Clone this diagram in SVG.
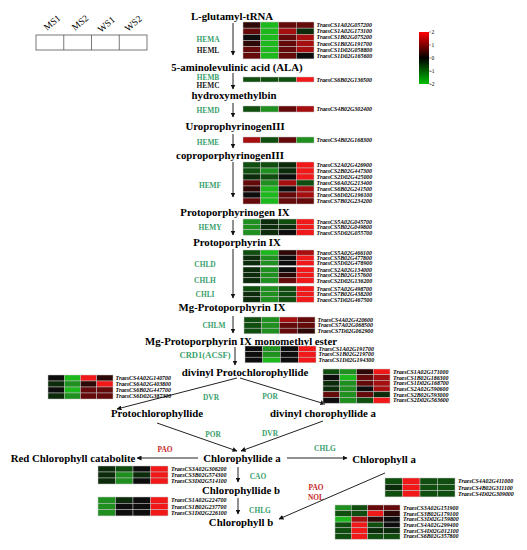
<svg xmlns="http://www.w3.org/2000/svg" width="527" height="550" viewBox="0 0 527 550">
<style>
.t{font-family:"Liberation Serif","Times New Roman",serif;font-weight:bold;font-size:10.8px;fill:#000;text-anchor:middle}
.en{font-family:"Liberation Serif","Times New Roman",serif;font-weight:bold;font-size:7.4px;fill:#3a9f6c;text-anchor:middle}
.enk{fill:#222}
.enr{fill:#c62828}
.gl{font-family:"Liberation Serif","Times New Roman",serif;font-weight:bold;font-style:italic;font-size:5.9px;fill:#000}
.lg{font-family:"Liberation Serif","Times New Roman",serif;font-size:9.5px;fill:#000}
.sc{font-family:"Liberation Serif","Times New Roman",serif;font-size:5.5px;fill:#000}
.hm rect{stroke:#c4c4c4;stroke-width:0.5}
.R{fill:#f01818}.r2{fill:#a50f0f}.r1{fill:#640a0a}.k1{fill:#2e0707}.k{fill:#0d0d0d}
.e1{fill:#0b2b0b}.e2{fill:#0f4e0f}.e3{fill:#1f8f1f}.e4{fill:#1cb81c}
.ln{stroke:#222;stroke-width:1;fill:none}
</style>
<defs>
<marker id="ah" viewBox="0 0 10 10" refX="9" refY="5" markerWidth="5" markerHeight="5" markerUnits="userSpaceOnUse" orient="auto">
<path d="M0,0 L10,5 L0,10 z" fill="#111"/>
</marker>
<linearGradient id="scale" x1="0" y1="0" x2="0" y2="1">
<stop offset="0" stop-color="#ff0000"/>
<stop offset="0.5" stop-color="#000000"/>
<stop offset="1" stop-color="#00c000"/>
</linearGradient>
</defs>
<rect width="527" height="550" fill="#fff"/>

<g id="legend">
<rect x="36" y="35" width="111" height="15" fill="#fff" stroke="#555" stroke-width="0.8"/>
<line x1="63.75" y1="35" x2="63.75" y2="50" stroke="#555" stroke-width="0.8"/>
<line x1="91.5" y1="35" x2="91.5" y2="50" stroke="#555" stroke-width="0.8"/>
<line x1="119.25" y1="35" x2="119.25" y2="50" stroke="#555" stroke-width="0.8"/>
<text class="lg" transform="translate(47,31) rotate(-40)">MS1</text>
<text class="lg" transform="translate(75,31) rotate(-40)">MS2</text>
<text class="lg" transform="translate(101,33) rotate(-40)">WS1</text>
<text class="lg" transform="translate(128,32) rotate(-40)">WS2</text>
</g>

<g id="colorscale">
<rect x="419" y="32" width="10" height="52" fill="url(#scale)"/>
<g stroke="#333" stroke-width="0.5">
<line x1="429" y1="32" x2="431" y2="32"/><line x1="429" y1="45" x2="431" y2="45"/><line x1="429" y1="58" x2="431" y2="58"/><line x1="429" y1="71" x2="431" y2="71"/><line x1="429" y1="84" x2="431" y2="84"/>
</g>
<text class="sc" x="431.5" y="34">2</text>
<text class="sc" x="431.5" y="47">1</text>
<text class="sc" x="431.5" y="60">0</text>
<text class="sc" x="430" y="73">-1</text>
<text class="sc" x="430" y="86">-2</text>
</g>

<g id="compounds">
<text id="n-glu" class="t" x="232" y="20">L-glutamyl-tRNA</text>
<text id="n-ala" class="t" x="237" y="71">5-aminolevulinic acid (ALA)</text>
<text id="n-hmb" class="t" x="234" y="99">hydroxymethylbin</text>
<text id="n-uro" class="t" x="235" y="130">UroprophyrinogenIII</text>
<text id="n-copro" class="t" x="230" y="159">coproporphyrinogenIII</text>
<text id="n-protogen" class="t" x="235" y="216">Protoporphyrinogen IX</text>
<text id="n-proto" class="t" x="237" y="246">Protoporphyrin IX</text>
<text id="n-mgproto" class="t" x="232" y="311">Mg-Protoporphyrin IX</text>
<text id="n-mgme" class="t" x="241" y="345">Mg-Protoporphyrin IX monomethyl ester</text>
<text id="n-dvpchl" class="t" x="245" y="376">divinyl Protochlorophyllide</text>
<text id="n-pchl" class="t" x="157" y="417">Protochlorophyllide</text>
<text id="n-dvchl" class="t" x="323" y="417">divinyl chorophyllide a</text>
<text id="n-chlidea" class="t" x="242" y="462">Chlorophyllide a</text>
<text id="n-rcc" class="t" x="73" y="462">Red Chlorophyll catabolite</text>
<text id="n-chla" class="t" x="384" y="463">Chlorophyll a</text>
<text id="n-chlideb" class="t" x="241" y="494">Chlorophyllide b</text>
<text id="n-chlb" class="t" x="241" y="526">Chlorophyll b</text>
</g>

<g id="enzymes">
<text class="en" x="208" y="42">HEMA</text>
<text class="en enk" x="208" y="53">HEML</text>
<text class="en" x="208" y="80">HEMB</text>
<text class="en enk" x="208" y="88">HEMC</text>
<text class="en" x="208" y="113">HEMD</text>
<text class="en" x="208" y="145">HEME</text>
<text class="en" x="210" y="188">HEMF</text>
<text class="en" x="210" y="230">HEMY</text>
<text class="en" x="205" y="267">CHLD</text>
<text class="en" x="205" y="283">CHLH</text>
<text class="en" x="205" y="297">CHLI</text>
<text class="en" x="214" y="328">CHLM</text>
<text class="en" x="205" y="358" style="font-size:8.6px">CRD1(ACSF)</text>
<text class="en" x="211" y="400">DVR</text>
<text class="en" x="270" y="399">POR</text>
<text class="en" x="213" y="437">POR</text>
<text class="en" x="270" y="436">DVR</text>
<text class="en enr" x="165" y="452">PAO</text>
<text class="en" x="325" y="451">CHLG</text>
<text class="en" x="258" y="479">CAO</text>
<text class="en" x="260" y="513">CHLG</text>
<text class="en enr" x="316" y="490">PAO</text>
<text class="en enr" x="316" y="500">NOL</text>
</g>

<g id="connectors" class="ln" marker-end="url(#ah)">
<line x1="233" y1="23" x2="233" y2="55"/>
<line x1="233" y1="73" x2="233" y2="89"/>
<line x1="233" y1="103" x2="233" y2="117"/>
<line x1="233" y1="134" x2="233" y2="148"/>
<line x1="233" y1="162" x2="233" y2="197"/>
<line x1="233" y1="220" x2="233" y2="235"/>
<line x1="233" y1="249" x2="233" y2="298"/>
<line x1="233" y1="316" x2="233" y2="333"/>
<line x1="235" y1="347" x2="235" y2="365"/>
<line x1="237" y1="378" x2="117" y2="409"/>
<line x1="240" y1="378" x2="325" y2="404"/>
<line x1="157" y1="423" x2="237" y2="451"/>
<line x1="323" y1="421" x2="241" y2="451"/>
<line x1="198" y1="458" x2="137" y2="458"/>
<line x1="287" y1="458" x2="347" y2="458"/>
<line x1="238" y1="467" x2="238" y2="482"/>
<line x1="238" y1="498" x2="238" y2="514"/>
<line x1="385" y1="473" x2="279" y2="519"/>
</g>

<g id="hm-hema" class="hm" transform="translate(243,22)">
<rect x="0" y="0" width="17.75" height="6.15" class="k1"/><rect x="17.75" y="0" width="17.75" height="6.15" class="e4"/><rect x="35.5" y="0" width="17.75" height="6.15" class="r1"/><rect x="53.25" y="0" width="17.75" height="6.15" class="r1"/>
<rect x="0" y="6.15" width="17.75" height="6.15" class="r1"/><rect x="17.75" y="6.15" width="17.75" height="6.15" class="e4"/><rect x="35.5" y="6.15" width="17.75" height="6.15" class="r2"/><rect x="53.25" y="6.15" width="17.75" height="6.15" class="e1"/>
<rect x="0" y="12.3" width="17.75" height="6.15" class="k"/><rect x="17.75" y="12.3" width="17.75" height="6.15" class="e4"/><rect x="35.5" y="12.3" width="17.75" height="6.15" class="r1"/><rect x="53.25" y="12.3" width="17.75" height="6.15" class="r2"/>
<rect x="0" y="18.45" width="17.75" height="6.15" class="k1"/><rect x="17.75" y="18.45" width="17.75" height="6.15" class="e4"/><rect x="35.5" y="18.45" width="17.75" height="6.15" class="r1"/><rect x="53.25" y="18.45" width="17.75" height="6.15" class="r2"/>
<rect x="0" y="24.6" width="17.75" height="6.15" class="r1"/><rect x="17.75" y="24.6" width="17.75" height="6.15" class="e4"/><rect x="35.5" y="24.6" width="17.75" height="6.15" class="r1"/><rect x="53.25" y="24.6" width="17.75" height="6.15" class="r2"/>
<rect x="0" y="30.75" width="17.75" height="6.15" class="r1"/><rect x="17.75" y="30.75" width="17.75" height="6.15" class="e4"/><rect x="35.5" y="30.75" width="17.75" height="6.15" class="r1"/><rect x="53.25" y="30.75" width="17.75" height="6.15" class="k"/>
<text class="gl" x="73.5" y="5.1">TraesCS1A02G057200</text>
<text class="gl" x="73.5" y="11.2">TraesCS1A02G173100</text>
<text class="gl" x="73.5" y="17.4">TraesCS1B02G075200</text>
<text class="gl" x="73.5" y="23.5">TraesCS1B02G191700</text>
<text class="gl" x="73.5" y="29.7">TraesCS1D02G058800</text>
<text class="gl" x="73.5" y="35.8">TraesCS1D02G165600</text>
</g>

<g id="hm-hemb" class="hm" transform="translate(243,77)">
<rect x="0" y="0" width="17.75" height="5" class="e2"/><rect x="17.75" y="0" width="17.75" height="5" class="e2"/><rect x="35.5" y="0" width="17.75" height="5" class="e2"/><rect x="53.25" y="0" width="17.75" height="5" class="R"/>
<text class="gl" x="73.5" y="4.5">TraesCS6B02G136500</text>
</g>

<g id="hm-hemd" class="hm" transform="translate(243,106)">
<rect x="0" y="0" width="17.75" height="6" class="e2"/><rect x="17.75" y="0" width="17.75" height="6" class="e3"/><rect x="35.5" y="0" width="17.75" height="6" class="r1"/><rect x="53.25" y="0" width="17.75" height="6" class="r2"/>
<text class="gl" x="73.5" y="5">TraesCS4B02G302400</text>
</g>

<g id="hm-heme" class="hm" transform="translate(243,137)">
<rect x="0" y="0" width="17.75" height="6" class="r2"/><rect x="17.75" y="0" width="17.75" height="6" class="e2"/><rect x="35.5" y="0" width="17.75" height="6" class="r1"/><rect x="53.25" y="0" width="17.75" height="6" class="e3"/>
<text class="gl" x="73.5" y="5">TraesCS4B02G168300</text>
</g>

<g id="hm-hemf" class="hm" transform="translate(243,162)">
<rect x="0" y="0" width="17.75" height="6" class="e2"/><rect x="17.75" y="0" width="17.75" height="6" class="e2"/><rect x="35.5" y="0" width="17.75" height="6" class="e1"/><rect x="53.25" y="0" width="17.75" height="6" class="R"/>
<rect x="0" y="6" width="17.75" height="6" class="e2"/><rect x="17.75" y="6" width="17.75" height="6" class="e3"/><rect x="35.5" y="6" width="17.75" height="6" class="e1"/><rect x="53.25" y="6" width="17.75" height="6" class="R"/>
<rect x="0" y="12" width="17.75" height="6" class="e1"/><rect x="17.75" y="12" width="17.75" height="6" class="e2"/><rect x="35.5" y="12" width="17.75" height="6" class="k"/><rect x="53.25" y="12" width="17.75" height="6" class="R"/>
<rect x="0" y="18" width="17.75" height="6" class="r1"/><rect x="17.75" y="18" width="17.75" height="6" class="e3"/><rect x="35.5" y="18" width="17.75" height="6" class="r2"/><rect x="53.25" y="18" width="17.75" height="6" class="e2"/>
<rect x="0" y="24" width="17.75" height="6" class="k1"/><rect x="17.75" y="24" width="17.75" height="6" class="e4"/><rect x="35.5" y="24" width="17.75" height="6" class="k"/><rect x="53.25" y="24" width="17.75" height="6" class="r2"/>
<rect x="0" y="30" width="17.75" height="6" class="k"/><rect x="17.75" y="30" width="17.75" height="6" class="e4"/><rect x="35.5" y="30" width="17.75" height="6" class="r1"/><rect x="53.25" y="30" width="17.75" height="6" class="r2"/>
<rect x="0" y="36" width="17.75" height="6" class="r1"/><rect x="17.75" y="36" width="17.75" height="6" class="e4"/><rect x="35.5" y="36" width="17.75" height="6" class="r1"/><rect x="53.25" y="36" width="17.75" height="6" class="r1"/>
<text class="gl" x="73.5" y="5">TraesCS2A02G426900</text>
<text class="gl" x="73.5" y="11">TraesCS2B02G447300</text>
<text class="gl" x="73.5" y="17">TraesCS2D02G425000</text>
<text class="gl" x="73.5" y="23">TraesCS6A02G213400</text>
<text class="gl" x="73.5" y="29">TraesCS6B02G241500</text>
<text class="gl" x="73.5" y="35">TraesCS6D02G196100</text>
<text class="gl" x="73.5" y="41">TraesCS7B02G234200</text>
</g>

<g id="hm-hemy" class="hm" transform="translate(243,219)">
<rect x="0" y="0" width="17.75" height="5.4" class="e3"/><rect x="17.75" y="0" width="17.75" height="5.4" class="e1"/><rect x="35.5" y="0" width="17.75" height="5.4" class="e2"/><rect x="53.25" y="0" width="17.75" height="5.4" class="R"/>
<rect x="0" y="5.4" width="17.75" height="5.4" class="e3"/><rect x="17.75" y="5.4" width="17.75" height="5.4" class="e1"/><rect x="35.5" y="5.4" width="17.75" height="5.4" class="e1"/><rect x="53.25" y="5.4" width="17.75" height="5.4" class="R"/>
<rect x="0" y="10.8" width="17.75" height="5.4" class="e3"/><rect x="17.75" y="10.8" width="17.75" height="5.4" class="e1"/><rect x="35.5" y="10.8" width="17.75" height="5.4" class="k"/><rect x="53.25" y="10.8" width="17.75" height="5.4" class="R"/>
<text class="gl" x="73.5" y="4.7">TraesCS5A02G045700</text>
<text class="gl" x="73.5" y="10.1">TraesCS5B02G049800</text>
<text class="gl" x="73.5" y="15.5">TraesCS5D02G055700</text>
</g>

<g id="hm-chld" class="hm" transform="translate(243,250)">
<rect x="0" y="0" width="17.75" height="5.2" class="e2"/><rect x="17.75" y="0" width="17.75" height="5.2" class="e4"/><rect x="35.5" y="0" width="17.75" height="5.2" class="k1"/><rect x="53.25" y="0" width="17.75" height="5.2" class="r2"/>
<rect x="0" y="5.2" width="17.75" height="5.2" class="e1"/><rect x="17.75" y="5.2" width="17.75" height="5.2" class="e3"/><rect x="35.5" y="5.2" width="17.75" height="5.2" class="k"/><rect x="53.25" y="5.2" width="17.75" height="5.2" class="R"/>
<rect x="0" y="10.4" width="17.75" height="5.2" class="e1"/><rect x="17.75" y="10.4" width="17.75" height="5.2" class="e3"/><rect x="35.5" y="10.4" width="17.75" height="5.2" class="k"/><rect x="53.25" y="10.4" width="17.75" height="5.2" class="R"/>
<text class="gl" x="73.5" y="4.6">TraesCS5A02G466100</text>
<text class="gl" x="73.5" y="9.8">TraesCS5B02G477800</text>
<text class="gl" x="73.5" y="15">TraesCS5D02G478900</text>
</g>

<g id="hm-chlh" class="hm" transform="translate(243,267)">
<rect x="0" y="0" width="17.75" height="5.4" class="e1"/><rect x="17.75" y="0" width="17.75" height="5.4" class="e3"/><rect x="35.5" y="0" width="17.75" height="5.4" class="k"/><rect x="53.25" y="0" width="17.75" height="5.4" class="R"/>
<rect x="0" y="5.4" width="17.75" height="5.4" class="e1"/><rect x="17.75" y="5.4" width="17.75" height="5.4" class="e3"/><rect x="35.5" y="5.4" width="17.75" height="5.4" class="k1"/><rect x="53.25" y="5.4" width="17.75" height="5.4" class="R"/>
<rect x="0" y="10.8" width="17.75" height="5.4" class="e1"/><rect x="17.75" y="10.8" width="17.75" height="5.4" class="e3"/><rect x="35.5" y="10.8" width="17.75" height="5.4" class="r1"/><rect x="53.25" y="10.8" width="17.75" height="5.4" class="R"/>
<text class="gl" x="73.5" y="4.7">TraesCS2A02G134000</text>
<text class="gl" x="73.5" y="10.1">TraesCS2B02G157600</text>
<text class="gl" x="73.5" y="15.5">TraesCS2D02G136200</text>
</g>

<g id="hm-chli" class="hm" transform="translate(243,286)">
<rect x="0" y="0" width="17.75" height="5.4" class="e2"/><rect x="17.75" y="0" width="17.75" height="5.4" class="e3"/><rect x="35.5" y="0" width="17.75" height="5.4" class="e2"/><rect x="53.25" y="0" width="17.75" height="5.4" class="R"/>
<rect x="0" y="5.4" width="17.75" height="5.4" class="e1"/><rect x="17.75" y="5.4" width="17.75" height="5.4" class="e3"/><rect x="35.5" y="5.4" width="17.75" height="5.4" class="e2"/><rect x="53.25" y="5.4" width="17.75" height="5.4" class="R"/>
<rect x="0" y="10.8" width="17.75" height="5.4" class="e1"/><rect x="17.75" y="10.8" width="17.75" height="5.4" class="e3"/><rect x="35.5" y="10.8" width="17.75" height="5.4" class="e2"/><rect x="53.25" y="10.8" width="17.75" height="5.4" class="R"/>
<text class="gl" x="73.5" y="4.7">TraesCS7A02G498700</text>
<text class="gl" x="73.5" y="10.1">TraesCS7B02G438200</text>
<text class="gl" x="73.5" y="15.5">TraesCS7D02G467500</text>
</g>

<g id="hm-chlm" class="hm" transform="translate(244,317)">
<rect x="0" y="0" width="17.75" height="5.6" class="e2"/><rect x="17.75" y="0" width="17.75" height="5.6" class="e3"/><rect x="35.5" y="0" width="17.75" height="5.6" class="r2"/><rect x="53.25" y="0" width="17.75" height="5.6" class="r1"/>
<rect x="0" y="5.6" width="17.75" height="5.6" class="e2"/><rect x="17.75" y="5.6" width="17.75" height="5.6" class="e3"/><rect x="35.5" y="5.6" width="17.75" height="5.6" class="r1"/><rect x="53.25" y="5.6" width="17.75" height="5.6" class="r1"/>
<rect x="0" y="11.2" width="17.75" height="5.6" class="e2"/><rect x="17.75" y="11.2" width="17.75" height="5.6" class="e3"/><rect x="35.5" y="11.2" width="17.75" height="5.6" class="r1"/><rect x="53.25" y="11.2" width="17.75" height="5.6" class="k1"/>
<text class="gl" x="73.5" y="4.8">TraesCS4A02G420600</text>
<text class="gl" x="73.5" y="10.4">TraesCS7A02G068500</text>
<text class="gl" x="73.5" y="16">TraesCS7D02G062900</text>
</g>

<g id="hm-crd1" class="hm" transform="translate(245,346)">
<rect x="0" y="0" width="17.75" height="5.6" class="k"/><rect x="17.75" y="0" width="17.75" height="5.6" class="e3"/><rect x="35.5" y="0" width="17.75" height="5.6" class="k"/><rect x="53.25" y="0" width="17.75" height="5.6" class="R"/>
<rect x="0" y="5.6" width="17.75" height="5.6" class="k"/><rect x="17.75" y="5.6" width="17.75" height="5.6" class="e3"/><rect x="35.5" y="5.6" width="17.75" height="5.6" class="k"/><rect x="53.25" y="5.6" width="17.75" height="5.6" class="R"/>
<rect x="0" y="11.2" width="17.75" height="5.6" class="k"/><rect x="17.75" y="11.2" width="17.75" height="5.6" class="e4"/><rect x="35.5" y="11.2" width="17.75" height="5.6" class="k"/><rect x="53.25" y="11.2" width="17.75" height="5.6" class="R"/>
<text class="gl" x="73.5" y="4.8">TraesCS1A02G191700</text>
<text class="gl" x="73.5" y="10.4">TraesCS1B02G219700</text>
<text class="gl" x="73.5" y="16">TraesCS1D02G194300</text>
</g>

<g id="hm-dvr" class="hm" transform="translate(48,375)">
<rect x="0" y="0" width="16.25" height="6" class="k"/><rect x="16.25" y="0" width="16.25" height="6" class="e4"/><rect x="32.5" y="0" width="16.25" height="6" class="R"/><rect x="48.75" y="0" width="16.25" height="6" class="k1"/>
<rect x="0" y="6" width="16.25" height="6" class="e1"/><rect x="16.25" y="6" width="16.25" height="6" class="e3"/><rect x="32.5" y="6" width="16.25" height="6" class="k1"/><rect x="48.75" y="6" width="16.25" height="6" class="R"/>
<rect x="0" y="12" width="16.25" height="6" class="k"/><rect x="16.25" y="12" width="16.25" height="6" class="e4"/><rect x="32.5" y="12" width="16.25" height="6" class="r1"/><rect x="48.75" y="12" width="16.25" height="6" class="r1"/>
<rect x="0" y="18" width="16.25" height="6" class="e1"/><rect x="16.25" y="18" width="16.25" height="6" class="e3"/><rect x="32.5" y="18" width="16.25" height="6" class="r1"/><rect x="48.75" y="18" width="16.25" height="6" class="r1"/>
<text class="gl" x="67.5" y="5">TraesCS4A02G140700</text>
<text class="gl" x="67.5" y="11">TraesCS6A02G403800</text>
<text class="gl" x="67.5" y="17">TraesCS6B02G447700</text>
<text class="gl" x="67.5" y="23">TraesCS6D02G387300</text>
</g>

<g id="hm-por" class="hm" transform="translate(323,369)">
<rect x="0" y="0" width="16.75" height="5.7" class="e2"/><rect x="16.75" y="0" width="16.75" height="5.7" class="e3"/><rect x="33.5" y="0" width="16.75" height="5.7" class="k1"/><rect x="50.25" y="0" width="16.75" height="5.7" class="R"/>
<rect x="0" y="5.7" width="16.75" height="5.7" class="k"/><rect x="16.75" y="5.7" width="16.75" height="5.7" class="e4"/><rect x="33.5" y="5.7" width="16.75" height="5.7" class="r1"/><rect x="50.25" y="5.7" width="16.75" height="5.7" class="r2"/>
<rect x="0" y="11.4" width="16.75" height="5.7" class="e1"/><rect x="16.75" y="11.4" width="16.75" height="5.7" class="e3"/><rect x="33.5" y="11.4" width="16.75" height="5.7" class="r1"/><rect x="50.25" y="11.4" width="16.75" height="5.7" class="r2"/>
<rect x="0" y="17.1" width="16.75" height="5.7" class="e1"/><rect x="16.75" y="17.1" width="16.75" height="5.7" class="e3"/><rect x="33.5" y="17.1" width="16.75" height="5.7" class="k"/><rect x="50.25" y="17.1" width="16.75" height="5.7" class="r2"/>
<rect x="0" y="22.8" width="16.75" height="5.7" class="r1"/><rect x="16.75" y="22.8" width="16.75" height="5.7" class="e3"/><rect x="33.5" y="22.8" width="16.75" height="5.7" class="r1"/><rect x="50.25" y="22.8" width="16.75" height="5.7" class="e1"/>
<rect x="0" y="28.5" width="16.75" height="5.7" class="k"/><rect x="16.75" y="28.5" width="16.75" height="5.7" class="e3"/><rect x="33.5" y="28.5" width="16.75" height="5.7" class="e2"/><rect x="50.25" y="28.5" width="16.75" height="5.7" class="R"/>
<text class="gl" x="70" y="4.8">TraesCS1A02G171000</text>
<text class="gl" x="70" y="10.5">TraesCS1B02G186300</text>
<text class="gl" x="70" y="16.2">TraesCS1D02G168700</text>
<text class="gl" x="70" y="21.9">TraesCS2A02G590600</text>
<text class="gl" x="70" y="27.6">TraesCS2B02G593000</text>
<text class="gl" x="70" y="33.3">TraesCS2D02G563600</text>
</g>

<g id="hm-cao" class="hm" transform="translate(98,466)">
<rect x="0" y="0" width="17.5" height="6" class="e1"/><rect x="17.5" y="0" width="17.5" height="6" class="e2"/><rect x="35" y="0" width="17.5" height="6" class="k"/><rect x="52.5" y="0" width="17.5" height="6" class="R"/>
<rect x="0" y="6" width="17.5" height="6" class="e1"/><rect x="17.5" y="6" width="17.5" height="6" class="e3"/><rect x="35" y="6" width="17.5" height="6" class="e1"/><rect x="52.5" y="6" width="17.5" height="6" class="R"/>
<rect x="0" y="12" width="17.5" height="6" class="e1"/><rect x="17.5" y="12" width="17.5" height="6" class="e3"/><rect x="35" y="12" width="17.5" height="6" class="k"/><rect x="52.5" y="12" width="17.5" height="6" class="R"/>
<text class="gl" x="73" y="5">TraesCS3A02G306200</text>
<text class="gl" x="73" y="11">TraesCS3B02G574300</text>
<text class="gl" x="73" y="17">TraesCS3D02G514100</text>
</g>

<g id="hm-chlg" class="hm" transform="translate(98,497)">
<rect x="0" y="0" width="17.5" height="6.3" class="e3"/><rect x="17.5" y="0" width="17.5" height="6.3" class="e1"/><rect x="35" y="0" width="17.5" height="6.3" class="k"/><rect x="52.5" y="0" width="17.5" height="6.3" class="R"/>
<rect x="0" y="6.3" width="17.5" height="6.3" class="e3"/><rect x="17.5" y="6.3" width="17.5" height="6.3" class="k"/><rect x="35" y="6.3" width="17.5" height="6.3" class="k"/><rect x="52.5" y="6.3" width="17.5" height="6.3" class="R"/>
<rect x="0" y="12.6" width="17.5" height="6.3" class="e3"/><rect x="17.5" y="12.6" width="17.5" height="6.3" class="k"/><rect x="35" y="12.6" width="17.5" height="6.3" class="k"/><rect x="52.5" y="12.6" width="17.5" height="6.3" class="R"/>
<text class="gl" x="73" y="5.2">TraesCS1A02G224700</text>
<text class="gl" x="73" y="11.5">TraesCS1B02G237700</text>
<text class="gl" x="73" y="17.8">TraesCS1D02G226100</text>
</g>

<g id="hm-pao" class="hm" transform="translate(385,478)">
<rect x="0" y="0" width="17.5" height="6.3" class="e2"/><rect x="17.5" y="0" width="17.5" height="6.3" class="R"/><rect x="35" y="0" width="17.5" height="6.3" class="e2"/><rect x="52.5" y="0" width="17.5" height="6.3" class="e2"/>
<rect x="0" y="6.3" width="17.5" height="6.3" class="e1"/><rect x="17.5" y="6.3" width="17.5" height="6.3" class="R"/><rect x="35" y="6.3" width="17.5" height="6.3" class="e2"/><rect x="52.5" y="6.3" width="17.5" height="6.3" class="e2"/>
<rect x="0" y="12.6" width="17.5" height="6.3" class="e2"/><rect x="17.5" y="12.6" width="17.5" height="6.3" class="R"/><rect x="35" y="12.6" width="17.5" height="6.3" class="e2"/><rect x="52.5" y="12.6" width="17.5" height="6.3" class="e2"/>
<text class="gl" x="73" y="5.2">TraesCS4A02G411000</text>
<text class="gl" x="73" y="11.5">TraesCS4B02G311100</text>
<text class="gl" x="73" y="17.8">TraesCS4D02G309000</text>
</g>

<g id="hm-nol" class="hm" transform="translate(335,505)">
<rect x="0" y="0" width="16.25" height="5.7" class="e3"/><rect x="16.25" y="0" width="16.25" height="5.7" class="e2"/><rect x="32.5" y="0" width="16.25" height="5.7" class="r1"/><rect x="48.75" y="0" width="16.25" height="5.7" class="r1"/>
<rect x="0" y="5.7" width="16.25" height="5.7" class="e2"/><rect x="16.25" y="5.7" width="16.25" height="5.7" class="e2"/><rect x="32.5" y="5.7" width="16.25" height="5.7" class="R"/><rect x="48.75" y="5.7" width="16.25" height="5.7" class="k1"/>
<rect x="0" y="11.4" width="16.25" height="5.7" class="e4"/><rect x="16.25" y="11.4" width="16.25" height="5.7" class="r2"/><rect x="32.5" y="11.4" width="16.25" height="5.7" class="k1"/><rect x="48.75" y="11.4" width="16.25" height="5.7" class="k"/>
<rect x="0" y="17.1" width="16.25" height="5.7" class="e2"/><rect x="16.25" y="17.1" width="16.25" height="5.7" class="R"/><rect x="32.5" y="17.1" width="16.25" height="5.7" class="e2"/><rect x="48.75" y="17.1" width="16.25" height="5.7" class="k"/>
<rect x="0" y="22.8" width="16.25" height="5.7" class="e2"/><rect x="16.25" y="22.8" width="16.25" height="5.7" class="R"/><rect x="32.5" y="22.8" width="16.25" height="5.7" class="e1"/><rect x="48.75" y="22.8" width="16.25" height="5.7" class="e1"/>
<rect x="0" y="28.5" width="16.25" height="5.7" class="e2"/><rect x="16.25" y="28.5" width="16.25" height="5.7" class="R"/><rect x="32.5" y="28.5" width="16.25" height="5.7" class="e2"/><rect x="48.75" y="28.5" width="16.25" height="5.7" class="e2"/>
<text class="gl" x="68" y="4.8">TraesCS3A02G151900</text>
<text class="gl" x="68" y="10.5">TraesCS3B02G179100</text>
<text class="gl" x="68" y="16.2">TraesCS3D02G159800</text>
<text class="gl" x="68" y="21.9">TraesCS4A02G299400</text>
<text class="gl" x="68" y="27.6">TraesCS4D02G012100</text>
<text class="gl" x="68" y="33.3">TraesCS6B02G357800</text>
</g>
</svg>
